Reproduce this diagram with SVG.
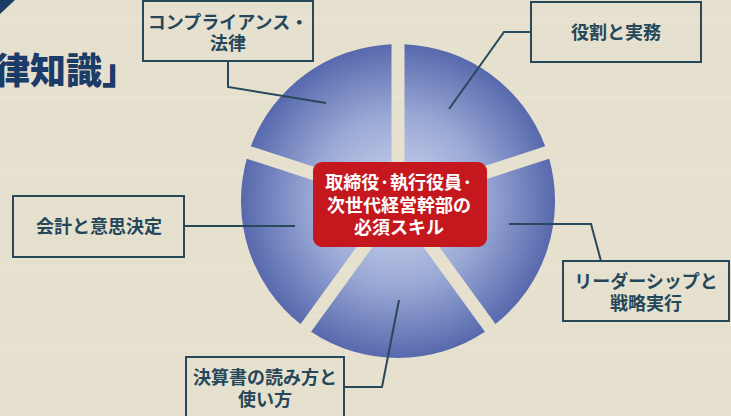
<svg xmlns="http://www.w3.org/2000/svg" width="731" height="416" viewBox="0 0 731 416">
  <defs>
    <radialGradient id="pieGrad" gradientUnits="userSpaceOnUse" cx="398" cy="201" r="157">
      <stop offset="0" stop-color="#cfd8ee"/>
      <stop offset="0.55" stop-color="#9aa8d5"/>
      <stop offset="1" stop-color="#5769ad"/>
    </radialGradient>
    <style>
      .bg { fill: #e6e0cf; }
      .streak { fill: #efe9dc; opacity: 0.4; }
      .streak2 { fill: #dcd5c3; opacity: 0.3; }
      .wedge { fill: url(#pieGrad); }
      .box { fill: none; stroke: #27495a; stroke-width: 2; }
      .label { font-family: "Noto Sans CJK JP", "Noto Sans CJK SC", sans-serif; font-weight: 700; font-size: 18px; fill: #25475a; text-anchor: middle; }
      .center-box { fill: #c4181e; }
      .center-text { font-family: "Noto Sans CJK JP", "Noto Sans CJK SC", sans-serif; font-weight: 700; font-size: 18px; fill: #ffffff; text-anchor: middle; }
      .conn { fill: none; stroke: #27495a; stroke-width: 2; stroke-linejoin: miter; }
      .title { font-family: "Noto Sans CJK JP", "Noto Sans CJK SC", sans-serif; font-weight: 900; font-size: 36px; fill: #1b3b68; }
    </style>
  </defs>

  <!-- background -->
  <rect class="bg" x="0" y="0" width="731" height="416"/>
  <g id="background-streaks">
    <rect class="streak" x="0" y="18" width="731" height="2"/>
    <rect class="streak2" x="0" y="47" width="731" height="1"/>
    <rect class="streak" x="0" y="96" width="731" height="2"/>
    <rect class="streak2" x="0" y="131" width="731" height="1"/>
    <rect class="streak" x="0" y="172" width="731" height="2"/>
    <rect class="streak2" x="0" y="238" width="731" height="1"/>
    <rect class="streak" x="0" y="268" width="731" height="2"/>
    <rect class="streak2" x="0" y="312" width="731" height="1"/>
    <rect class="streak" x="0" y="346" width="731" height="2"/>
    <rect class="streak2" x="0" y="392" width="731" height="1"/>
  </g>

  <!-- title fragment and corner -->
  <polygon id="corner" points="0,0 15,0 0,14" fill="#1b3b68"/>
  <text id="title" class="title" x="-6" y="84">律知識」</text>

  <!-- pie -->
  <g id="pie">
    <path class="wedge" d="M404.5,192.05 L404.5,44.14 A157,157 0 0 1 545.18,146.34 Z"/>
    <path class="wedge" d="M408.52,204.42 L549.2,158.71 A157,157 0 0 1 495.46,324.09 Z"/>
    <path class="wedge" d="M398,212.06 L484.94,331.73 A157,157 0 0 1 311.06,331.73 Z"/>
    <path class="wedge" d="M387.48,204.42 L300.54,324.09 A157,157 0 0 1 246.8,158.71 Z"/>
    <path class="wedge" d="M391.5,192.05 L250.82,146.34 A157,157 0 0 1 391.5,44.14 Z"/>
  </g>

  <!-- connectors -->
  <g id="connectors">
    <polyline class="conn" points="228,61 228,87 326,103"/>
    <polyline class="conn" points="531,32 504,32 449,109"/>
    <polyline class="conn" points="184,226 295,226"/>
    <polyline class="conn" points="509,224 591,224 601,261"/>
    <polyline class="conn" points="344,387 382,387 399,300"/>
  </g>

  <!-- center node -->
  <g id="center">
    <rect class="center-box" x="313" y="162" width="174" height="85" rx="9" ry="9"/>
    <text class="center-text" x="399" y="189">取締役·執行役員·<tspan x="399" y="212">次世代経営幹部の</tspan><tspan x="399" y="234">必須スキル</tspan></text>
  </g>

  <!-- outer nodes -->
  <g id="compliance">
    <rect class="box" x="143" y="1" width="170" height="60"/>
    <text class="label" x="228" y="29">コンプライアンス・<tspan x="228" y="50">法律</tspan></text>
  </g>
  <g id="roles">
    <rect class="box" x="531" y="2" width="170" height="60"/>
    <text class="label" x="616" y="39">役割と実務</text>
  </g>
  <g id="accounting">
    <rect class="box" x="13" y="196" width="171" height="61"/>
    <text class="label" x="99" y="233">会計と意思決定</text>
  </g>
  <g id="leadership">
    <rect class="box" x="563" y="261" width="166" height="60"/>
    <text class="label" x="646" y="288">リーダーシップと<tspan x="646" y="310">戦略実行</tspan></text>
  </g>
  <g id="financial">
    <rect class="box" x="186" y="357" width="158" height="64"/>
    <text class="label" x="265" y="384">決算書の読み方と<tspan x="265" y="406">使い方</tspan></text>
  </g>
</svg>
